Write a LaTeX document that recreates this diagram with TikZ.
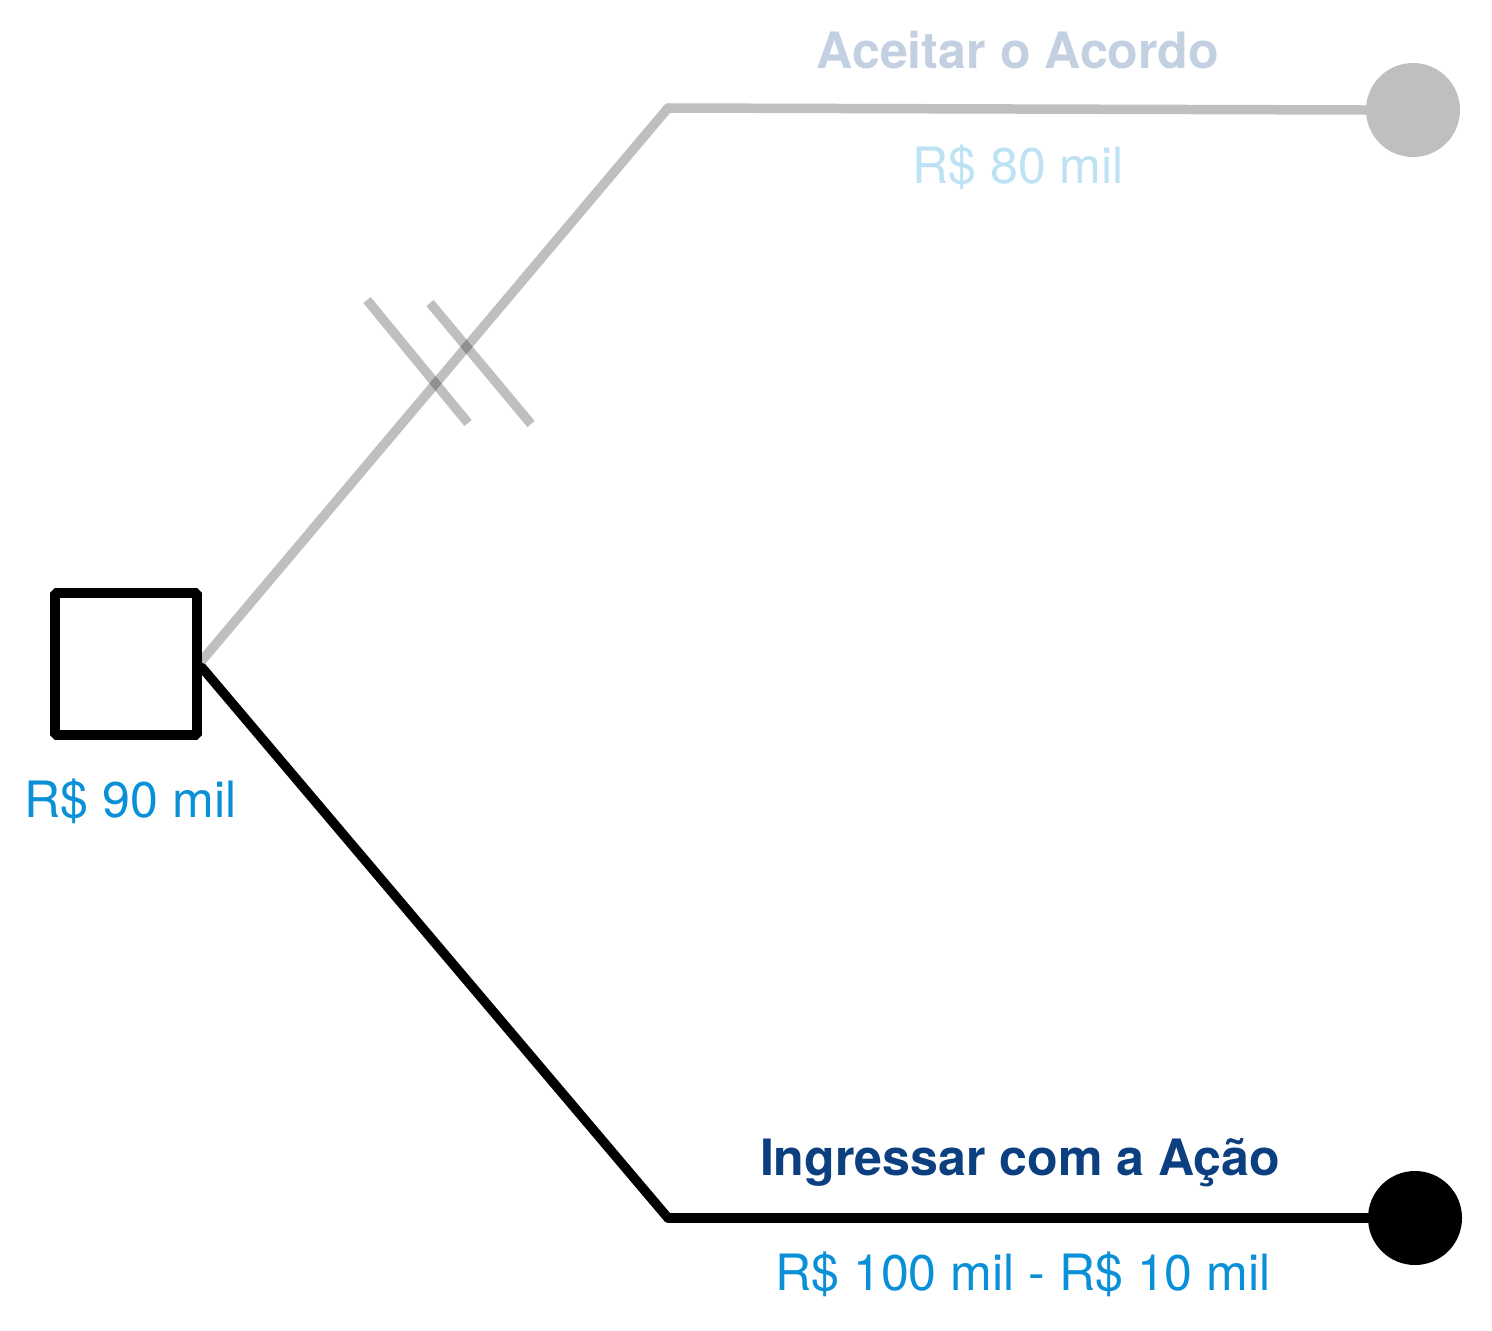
\documentclass[tikz,border=0pt]{standalone}
\usepackage{xcolor}
\usepackage{fontspec}
\setmainfont{TeX Gyre Heros}
\usepackage{tikz}
\usetikzlibrary{positioning,calc,backgrounds}

\definecolor{cinzaRamo}{HTML}{BFBFBF}
\definecolor{azulValor}{HTML}{0A90D6}
\definecolor{azulEscuro}{HTML}{0B3F7F}
\definecolor{azulApagado}{HTML}{C2D0E2}
\definecolor{azulClaro}{HTML}{BCE2F4}

\begin{document}
\begin{tikzpicture}[
    ramo/.style={line width=5.4pt, line cap=round},
    valor/.style={font=\fontsize{28.5}{31}\selectfont, anchor=base},
    titulo/.style={font=\fontsize{28.5}{31}\selectfont\bfseries, anchor=base}
]
    \useasboundingbox (0,0) rectangle (29.84,-26.6);

    % Decision node
    \node[draw, line width=5.6pt, rounded corners=1pt, fill=white, minimum size=2.84cm, inner sep=0pt] (decisao) at (2.52,-13.28) {};
    \node[valor, text=azulValor] (v90) at (2.61,-16.34) {R\$ 90 mil};

    % Branch points
    \coordinate (acordo) at (13.36,-2.16);
    \coordinate (acao) at (13.36,-24.36);

    % End nodes
    \node[circle, fill=cinzaRamo, minimum size=1.88cm, inner sep=0pt] (fimAcordo) at (28.26,-2.2) {};
    \node[circle, fill=black, minimum size=1.88cm, inner sep=0pt] (fimAcao) at (28.3,-24.36) {};

    % Branches
    \begin{scope}[on background layer]
    \draw[ramo, cinzaRamo] ([yshift=2pt]decisao.east) -- (acordo);
    \draw[ramo, cinzaRamo] (acordo) -- (fimAcordo.west);
    \draw[ramo, black] ([yshift=-2pt]decisao.east) -- (acao);
    \draw[ramo, black] (acao) -- (fimAcao.west);
    \end{scope}

    % Cut marks on rejected branch
    \draw[line width=5.4pt, black, opacity=0.25] (7.34,-6.0) -- (9.36,-8.46);
    \draw[line width=5.4pt, black, opacity=0.25] (8.6,-6.06) -- (10.62,-8.48);

    % Labels
    \node[titulo, text=azulApagado] (tAcordo) at (20.36,-1.36) {Aceitar o Acordo};
    \node[valor, text=azulClaro] (v80) at (20.36,-3.66) {R\$ 80 mil};
    \node[titulo, text=azulEscuro] (tAcao) at (20.4,-23.5) {Ingressar com a Ação};
    \node[valor, text=azulValor] (v100) at (20.46,-25.8) {R\$ 100 mil - R\$ 10 mil};

\end{tikzpicture}
\end{document}
